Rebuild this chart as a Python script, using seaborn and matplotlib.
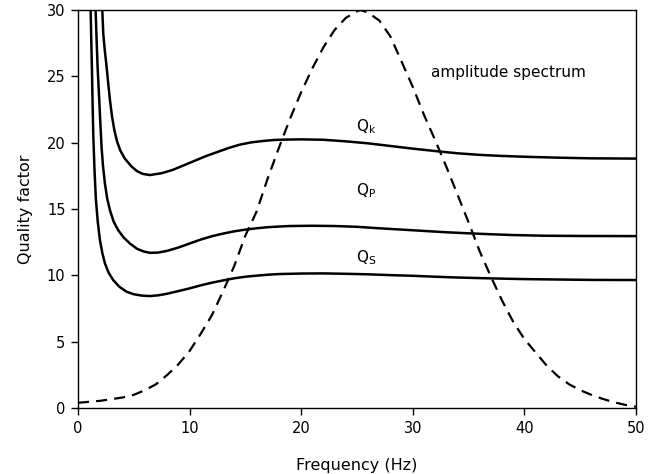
import numpy as np
import pandas as pd
import matplotlib
matplotlib.use("Agg")
import matplotlib.pyplot as plt
import seaborn as sns

# Quality factor curves
qk_x = [2.00, 2.18, 2.27, 2.40, 2.57, 2.72, 2.87, 3.05, 3.25, 3.5, 3.8, 4.2, 4.81, 5.3, 5.8, 6.45, 7.5, 8.5, 9.5, 10.5,
        11.5, 12.5, 13.5, 14.5, 15.5, 16.5, 17.5, 18.5, 20, 22, 24, 26, 28, 30, 32, 34, 36, 38, 40, 43, 46, 50]
qk_y = [32.0, 30.0, 28.2, 27.0, 25.7, 24.4, 23.2, 22.0, 21.0, 20.1, 19.4, 18.8, 18.2, 17.85, 17.65, 17.56, 17.7, 17.95, 18.3, 18.65,
        19.0, 19.3, 19.6, 19.85, 20.02, 20.12, 20.2, 20.23, 20.25, 20.22, 20.1, 19.95, 19.75, 19.55, 19.37, 19.2, 19.08, 19.0, 18.94, 18.87, 18.82, 18.8]

qp_x = [1.45, 1.58, 1.67, 1.76, 1.91, 2.0, 2.12, 2.25, 2.42, 2.62, 2.87, 3.2, 3.61, 4.1, 4.66, 5.3, 5.9, 6.45, 7.2, 8, 9, 10,
        11, 12, 13, 14, 15, 16, 17, 18, 19, 21, 23, 25, 27, 29, 31, 33, 35, 37, 39, 41.7, 45, 50]
qp_y = [32.0, 30.0, 27.8, 25.7, 23.2, 21.6, 19.6, 18.2, 16.9, 15.8, 14.9, 14.05, 13.4, 12.85, 12.4, 12.0, 11.8, 11.7, 11.72, 11.85, 12.1, 12.4,
        12.7, 12.95, 13.15, 13.32, 13.45, 13.55, 13.63, 13.68, 13.72, 13.74, 13.72, 13.66, 13.55, 13.45, 13.35, 13.25, 13.17, 13.1, 13.04, 12.99, 12.97, 12.96]

qs_x = [1.05, 1.14, 1.19, 1.25, 1.31, 1.37, 1.48, 1.61, 1.78, 1.97, 2.18, 2.42, 2.75, 3.16, 3.7, 4.36, 5.0, 5.7, 6.45, 7.2, 8, 9, 10,
        11, 12, 13, 14, 15, 16, 17, 18, 20, 22, 24, 26, 28, 30, 32, 34, 37.2, 40, 43, 46, 50]
qs_y = [32.0, 30.0, 27.8, 25.7, 23.0, 20.7, 18.0, 15.7, 14.0, 12.66, 11.7, 10.9, 10.2, 9.65, 9.15, 8.77, 8.58, 8.48, 8.44, 8.5, 8.62, 8.82, 9.02,
        9.25, 9.45, 9.62, 9.78, 9.9, 9.98, 10.05, 10.1, 10.14, 10.15, 10.12, 10.08, 10.02, 9.97, 9.9, 9.84, 9.77, 9.72, 9.69, 9.66, 9.65]

# Amplitude spectrum (dashed)
amp_x = [0, 2, 4, 5, 6, 7, 8, 9, 10, 11, 12, 13, 14, 15, 16, 17, 18, 19, 20, 21, 22, 23, 24, 25, 25.3,
         26, 27, 28, 29, 30, 31, 32, 33, 34, 35, 36, 37, 38, 39, 40, 41, 42, 43, 44, 45, 46, 47, 48, 49, 50]
amp_y = [0.4, 0.55, 0.8, 1.0, 1.35, 1.8, 2.5, 3.3, 4.3, 5.6, 7.0, 8.8, 10.7, 13.0, 14.8, 17.3, 19.6, 21.8, 23.8, 25.6, 27.2, 28.5, 29.4, 29.9, 30.0,
         29.8, 29.2, 28.0, 26.1, 24.2, 22.1, 20.2, 18.2, 16.1, 14.0, 11.8, 9.9, 8.1, 6.5, 5.2, 4.2, 3.2, 2.4, 1.8, 1.35, 1.0, 0.7, 0.45, 0.25, 0.1]

x_ticks = [0, 10, 20, 30, 40, 50]
y_ticks = [0, 5, 10, 15, 20, 25, 30]

sns.set_theme(style="ticks")
plt.rcParams['font.family'] = ['DejaVu Sans']
plt.rcParams['text.color'] = 'black'
plt.rcParams['axes.labelcolor'] = 'black'

fig = plt.figure(figsize=(6.55, 4.74), dpi=100)
ax = fig.add_axes([0.119, 0.139, 0.852, 0.840])

for xs, ys in [(qk_x, qk_y), (qp_x, qp_y), (qs_x, qs_y)]:
    df = pd.DataFrame({"f": xs, "q": ys})
    sns.lineplot(data=df, x="f", y="q", ax=ax, color="black", lw=1.8, sort=False,
                 solid_joinstyle="round", solid_capstyle="round")

dfa = pd.DataFrame({"f": amp_x, "a": amp_y})
sns.lineplot(data=dfa, x="f", y="a", ax=ax, color="black", lw=1.6, sort=False,
             linestyle=(0, (5, 3.2)))

ax.set_xlim(0, 50)
ax.set_ylim(0, 30)
ax.set_xticks(x_ticks)
ax.set_yticks(y_ticks)
ax.tick_params(direction="out", length=5, width=1, labelsize=10.5, colors="black", pad=4)
for s in ax.spines.values():
    s.set_visible(True)
    s.set_linewidth(1)
    s.set_color("black")

ax.set_xlabel("Frequency (Hz)", fontsize=11.5, labelpad=16)
ax.set_ylabel("Quality factor", fontsize=11.5, labelpad=10)

ax.text(38.6, 25.3, "amplitude spectrum", fontsize=11, ha="center", va="center")
ax.text(25.8, 21.2, r"Q$_{\mathrm{k}}$", fontsize=11, ha="center", va="center")
ax.text(25.8, 16.4, r"Q$_{\mathrm{P}}$", fontsize=11, ha="center", va="center")
ax.text(25.8, 11.3, r"Q$_{\mathrm{S}}$", fontsize=11, ha="center", va="center")

fig.savefig("out.png", dpi=100)
